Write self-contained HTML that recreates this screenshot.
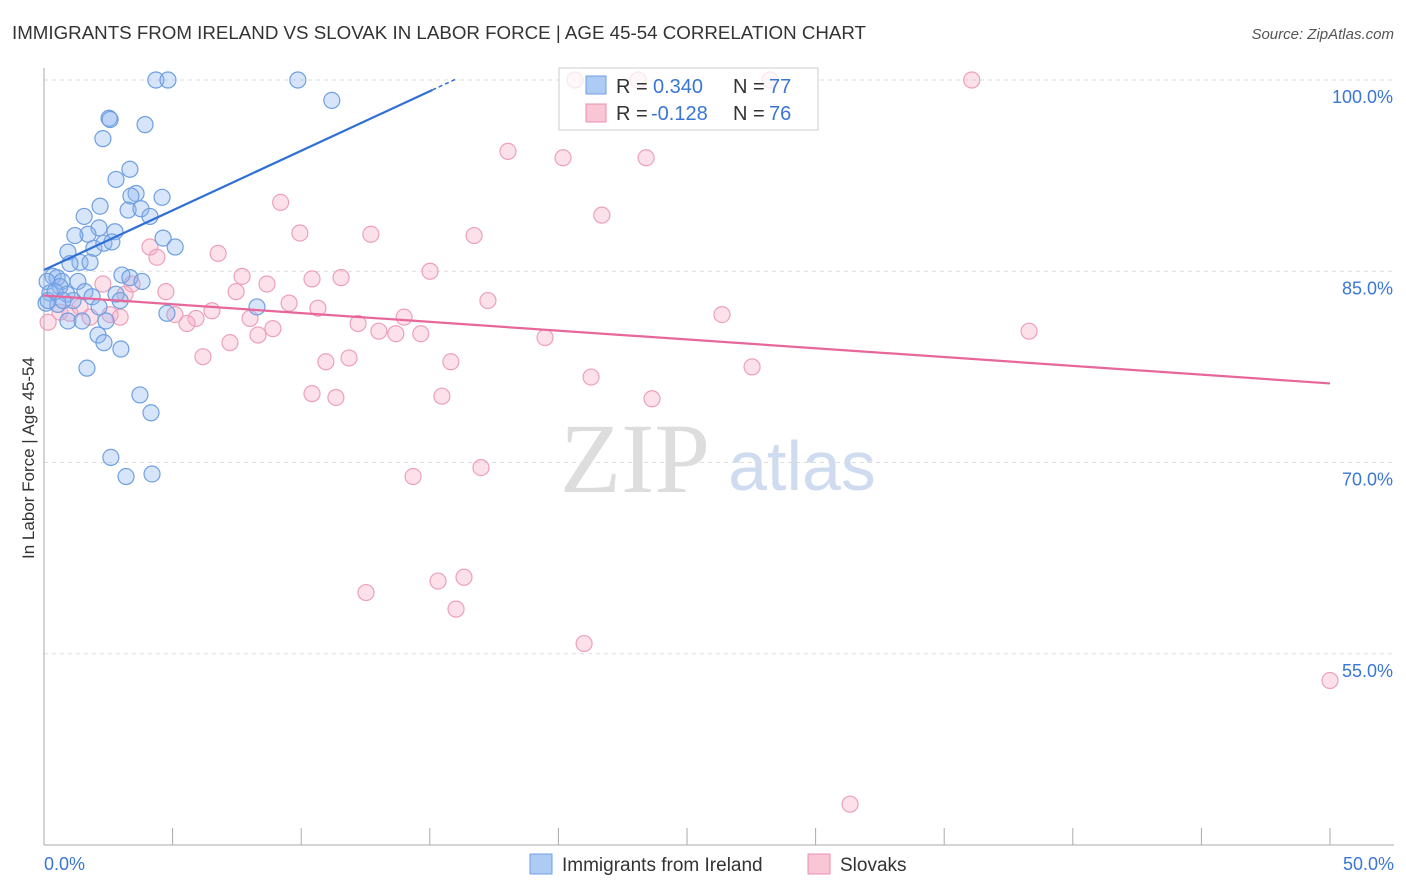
<!DOCTYPE html>
<html><head><meta charset="utf-8">
<style>
body{margin:0;background:#fff;font-family:"Liberation Sans",sans-serif;}
svg{display:block}
</style></head>
<body>
<svg id="chart" width="1406" height="892">
<text x="12" y="39" font-size="18" fill="#333" textLength="854" lengthAdjust="spacingAndGlyphs">IMMIGRANTS FROM IRELAND VS SLOVAK IN LABOR FORCE | AGE 45-54 CORRELATION CHART</text>
<text x="1394" y="39" font-size="15" fill="#555" font-style="italic" text-anchor="end">Source: ZipAtlas.com</text>
<text x="34" y="458" font-size="17" fill="#333" text-anchor="middle" transform="rotate(-90 34 458)">In Labor Force | Age 45-54</text>
<text x="635" y="492" font-size="100" fill="#ddd" font-family="Liberation Serif,serif" text-anchor="middle">ZIP</text>
<text x="802" y="490" font-size="70" fill="#cfdcf0" text-anchor="middle">atlas</text>
<g id="grid"></g>
<g id="pts"></g>
<g id="lines"></g>
<g>
<rect x="559" y="68" width="259" height="62" fill="rgba(255,255,255,0.75)" stroke="#ccc"/>
<rect x="586" y="76" width="20" height="18" fill="#aecbf4" stroke="#6f9fe0"/>
<text x="616" y="93" font-size="20" fill="#333">R =</text>
<text x="653" y="93" font-size="20" fill="#3a76d6">0.340</text>
<text x="733" y="93" font-size="20" fill="#333">N =</text>
<text x="769" y="93" font-size="20" fill="#3a76d6">77</text>
<rect x="586" y="104" width="20" height="18" fill="#f9c6d6" stroke="#ec8fb0"/>
<text x="616" y="120" font-size="20" fill="#333">R =</text>
<text x="651" y="120" font-size="20" fill="#3a76d6">-0.128</text>
<text x="733" y="120" font-size="20" fill="#333">N =</text>
<text x="769" y="120" font-size="20" fill="#3a76d6">76</text>
</g>
<g>
<rect x="530" y="854" width="22" height="20" fill="#aecbf4" stroke="#6f9fe0"/>
<text x="562" y="871" font-size="19" fill="#333">Immigrants from Ireland</text>
<rect x="808" y="854" width="22" height="20" fill="#f9c6d6" stroke="#ec8fb0"/>
<text x="840" y="871" font-size="19" fill="#333">Slovaks</text>
</g>
</svg>
<script>
const xTicks=[0,50];
const yTicks=[55,70,85,100];
const blueX=[4.35,4.82,9.87,11.19,2.53,2.57,3.93,2.29,3.34,2.8,3.58,3.38,4.59,2.18,3.27,3.77,4.12,1.56,2.14,1.71,2.76,1.2,1.94,2.33,2.64,4.63,5.1,0.93,1.4,1.79,1.01,3.03,0.35,0.51,0.7,0.12,1.32,3.34,3.81,0.62,1.59,0.23,0.89,1.87,2.8,0.08,0.54,1.13,2.14,2.96,4.78,8.28,0.93,1.48,2.41,2.1,2.33,2.99,1.67,3.73,4.16,2.6,3.19,4.2,0.16,0.43,0.74];
const blueY=[100,100,100,98.4,97,96.9,96.5,95.4,93,92.2,91.1,90.9,90.8,90.1,89.8,89.9,89.3,89.3,88.4,87.9,88.1,87.8,86.8,87.2,87.3,87.6,86.9,86.5,85.7,85.7,85.6,84.7,84.6,84.5,84.2,84.2,84.2,84.5,84.2,83.8,83.4,83.3,83.2,83,83.2,82.5,82.4,82.7,82.2,82.7,81.7,82.2,81.1,81.1,81.1,80,79.4,78.9,77.4,75.3,73.9,70.4,68.9,69.1,82.7,83.4,82.7];
const pinkX=[20.65,23.1,28.23,36.07,18.04,20.18,23.41,9.2,21.69,9.95,12.71,16.72,6.77,4.12,4.39,7.7,10.42,11.55,15.01,8.67,3.42,2.29,3.15,4.74,7.47,9.53,10.65,17.26,5.09,6.53,5.91,8.01,8.9,12.21,14,13.02,13.68,14.65,19.48,26.36,38.3,5.56,7.23,8.32,6.18,10.96,11.86,15.82,21.27,27.53,10.42,11.35,15.47,23.64,14.35,16.99,12.52,15.32,16.33,16.02,21,50,31.34,0.16,0.62,1.4,2.57,2.96,1.79,1.01];
const pinkY=[100,100,100,100,94.4,93.9,93.9,90.4,89.4,88,87.9,87.8,86.4,86.9,86.1,84.6,84.4,84.5,85,84,84,84,83.2,83.4,83.4,82.5,82.1,82.7,81.6,81.9,81.3,81.3,80.5,80.9,81.4,80.3,80.1,80.1,79.8,81.6,80.3,80.9,79.4,80,78.3,77.9,78.2,77.9,76.7,77.5,75.4,75.1,75.2,75,68.9,69.6,59.8,60.7,61,58.5,55.8,52.9,43.2,81,81.8,82.2,81.6,81.4,81.4,81.7];
const blueTrend=[85.1,0.935];
const pinkTrend=[83.1,-0.138];
const X=v=>44+v/50*1286, Y=v=>80+(100-v)*12.75;
const ns="http://www.w3.org/2000/svg";
function mk(tag,attrs,parent){const e=document.createElementNS(ns,tag);for(const k in attrs)e.setAttribute(k,attrs[k]);parent.appendChild(e);return e;}
const grid=document.getElementById('grid');
yTicks.forEach(t=>{
 const l=mk('line',{x1:44,x2:1394,y1:Y(t),y2:Y(t),stroke:'#ddd','stroke-dasharray':'4,4'},grid);
 
 
 const tx=mk('text',{x:1393,y:Y(t)+23,'font-size':18,fill:'#3a76d6','text-anchor':'end'},grid);
 tx.textContent=t.toFixed(1)+'%';
 
 
});
mk('line',{x1:44,x2:44,y1:68,y2:845,stroke:'#aaa'},grid);
mk('line',{x1:44,x2:1394,y1:845,y2:845,stroke:'#aaa'},grid);
for(let i=1;i<=10;i++){mk('line',{x1:X(i*5),x2:X(i*5),y1:828,y2:845,stroke:'#aaa'},grid);}
xTicks.forEach((t,i)=>{
 const tx=mk('text',{x:i?1394:44,y:870,'font-size':18,fill:'#3a76d6','text-anchor':i?'end':'start'},grid);
 tx.textContent=t.toFixed(1)+'%';
 
 
});
const pts=document.getElementById('pts');
pinkX.forEach((v,i)=>{
 const c=mk('circle',{cx:X(v),cy:Y(pinkY[i]),r:8,fill:'rgba(246,170,196,0.35)',stroke:'#eda0bb','stroke-width':1.2},pts);
 
 
});
blueX.forEach((v,i)=>{
 const c=mk('circle',{cx:X(v),cy:Y(blueY[i]),r:8,fill:'rgba(140,180,240,0.35)',stroke:'#6f9fe0','stroke-width':1.2},pts);
 
 
});
const L=document.getElementById('lines');
const [ba,bb]=blueTrend;
let l=mk('line',{x1:X(0),y1:Y(ba),x2:X(15.1),y2:Y(ba+bb*15.1),stroke:'#2f6fd6','stroke-width':2.2},L);


l=mk('line',{x1:X(15.1),y1:Y(ba+bb*15.1),x2:X(16),y2:Y(ba+bb*16),stroke:'#2f6fd6','stroke-width':1.5,'stroke-dasharray':'4,3'},L);


const [pa,pb]=pinkTrend;
l=mk('line',{x1:X(0),y1:Y(pa),x2:X(50),y2:Y(pa+pb*50),stroke:'#e8679a','stroke-width':2.2},L);


</script>
</body></html>
